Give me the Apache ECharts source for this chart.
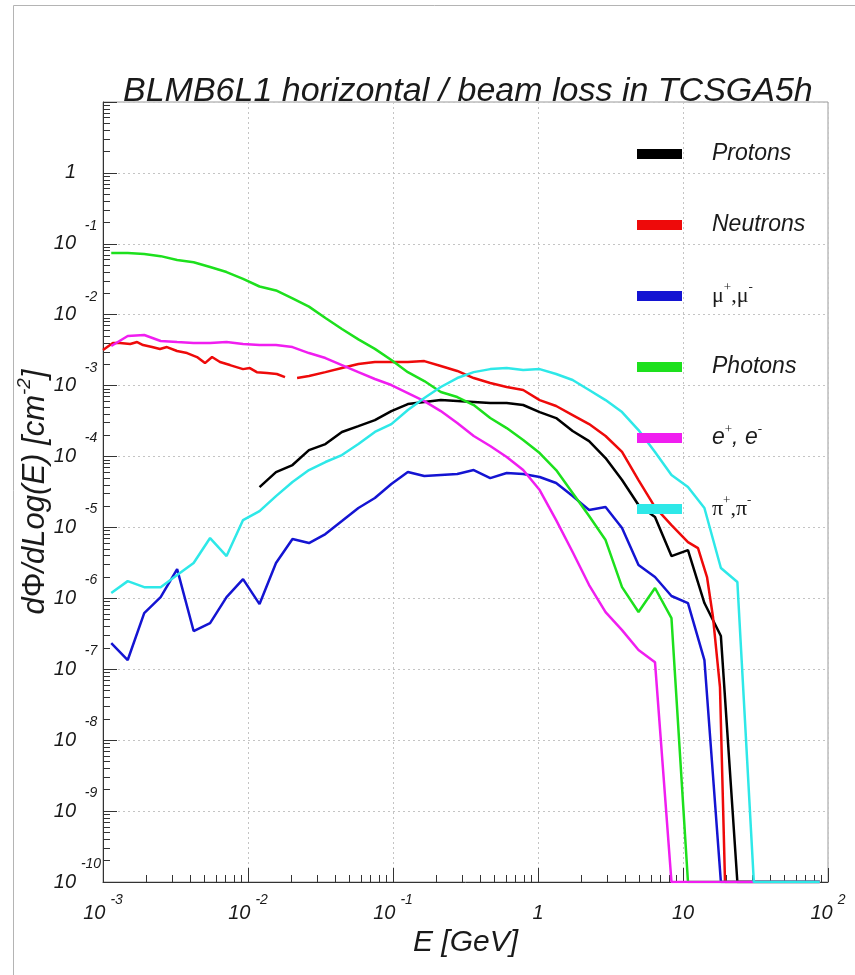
<!DOCTYPE html>
<html>
<head>
<meta charset="utf-8">
<script src="https://cdn.jsdelivr.net/npm/echarts@6/dist/echarts.min.js"></script>
<style>
  html, body { margin: 0; padding: 0; background: #fff; }
  #chart { width: 855px; height: 975px; }
</style>
</head>
<body>
<div id="chart"></div>
<script>
// bin centres (GeV) shared by most spectra
const energy = [0.00114, 0.001481, 0.001924, 0.002498, 0.003246, 0.004217, 0.005477, 0.007115,
  0.009245, 0.01201, 0.0156, 0.02027, 0.02633, 0.0342, 0.04443, 0.05772, 0.07499, 0.09741,
  0.1266, 0.1644, 0.2136, 0.2774, 0.3604, 0.4683, 0.6083, 0.7903, 1.027, 1.334, 1.733, 2.251,
  2.924, 3.798, 4.934, 6.41, 8.326, 10.82, 14.05, 18.25, 23.71, 30.8, 40.01, 51.98, 67.52, 87.71];

const protons = [null, null, null, null, null, null, null, null, null,
  3.71e-5, 6.04e-5, 7.59e-5, 1.23e-4, 1.50e-4, 2.22e-4, 2.69e-4, 3.27e-4, 4.38e-4, 5.50e-4,
  5.87e-4, 6.26e-4, 6.06e-4, 5.87e-4, 5.68e-4, 5.68e-4, 5.33e-4, 4.24e-4, 3.49e-4, 2.29e-4,
  1.65e-4, 9.52e-5, 4.66e-5, 2.07e-5, 1.40e-5, 3.95e-6, 4.80e-6, 8.59e-7, 2.94e-7,
  1e-10, 1e-10, 1e-10, 1e-10, 1e-10, 1e-10];

const muons = [2.34e-7, 1.35e-7, 6.20e-7, 1.04e-6, 2.59e-6, 3.46e-7, 4.48e-7, 1.04e-6, 1.87e-6,
  8.31e-7, 3.15e-6, 6.86e-6, 6.03e-6, 8.07e-6, 1.23e-5, 1.88e-5, 2.60e-5, 4.09e-5, 6.04e-5,
  5.31e-5, 5.48e-5, 5.66e-5, 6.45e-5, 4.97e-5, 5.85e-5, 5.66e-5, 5.14e-5, 4.23e-5, 2.77e-5,
  1.76e-5, 1.94e-5, 9.81e-6, 2.95e-6, 2.00e-6, 1.08e-6, 8.59e-7, 1.35e-7,
  1e-10, 1e-10, 1e-10, 1e-10, 1e-10, 1e-10, 1e-10];

const photons = [7.4e-2, 7.4e-2, 7.2e-2, 6.7e-2, 5.9e-2, 5.5e-2, 4.7e-2, 4.0e-2, 3.2e-2, 2.5e-2,
  2.2e-2, 1.7e-2, 1.3e-2, 9.0e-3, 6.3e-3, 4.5e-3, 3.3e-3, 2.3e-3, 1.55e-3, 1.16e-3, 8.12e-4,
  6.91e-4, 5.33e-4, 3.49e-4, 2.52e-4, 1.71e-4, 1.12e-4, 6.45e-5, 3.06e-5, 1.45e-5, 6.64e-6,
  1.44e-6, 6.41e-7, 1.40e-6, 5.27e-7,
  1e-10, 1e-10, 1e-10, 1e-10, 1e-10, 1e-10, 1e-10, 1e-10, 1e-10];

const electrons = [3.62e-3, 5.01e-3, 5.17e-3, 4.26e-3, 4.12e-3, 3.99e-3, 3.99e-3, 4.12e-3, 3.86e-3,
  3.74e-3, 3.74e-3, 3.50e-3, 2.88e-3, 2.45e-3, 1.95e-3, 1.55e-3, 1.24e-3, 1.02e-3, 7.86e-4,
  6.06e-4, 4.38e-4, 2.97e-4, 1.95e-4, 1.41e-4, 9.84e-5, 6.45e-5, 3.37e-5, 1.27e-5, 4.50e-6,
  1.54e-6, 6.41e-7, 3.57e-7, 1.87e-7, 1.26e-7,
  1e-10, 1e-10, 1e-10, 1e-10, 1e-10, 1e-10, 1e-10, 1e-10, 1e-10, 1e-10];

const pions = [1.19e-6, 1.75e-6, 1.44e-6, 1.44e-6, 2.13e-6, 3.15e-6, 7.09e-6, 3.95e-6, 1.27e-5,
  1.70e-5, 2.77e-5, 4.37e-5, 6.45e-5, 8.37e-5, 1.05e-4, 1.50e-4, 2.22e-4, 2.87e-4, 4.53e-4,
  6.68e-4, 9.56e-4, 1.28e-3, 1.55e-3, 1.71e-3, 1.77e-3, 1.66e-3, 1.71e-3, 1.46e-3, 1.20e-3,
  8.67e-4, 6.26e-4, 4.24e-4, 2.36e-4, 1.16e-4, 5.48e-5, 3.71e-5, 1.88e-5, 2.68e-6, 1.70e-6,
  1e-10, 1e-10, 1e-10, 1e-10, 1e-10];

// neutrons have their own (finer, below 20 MeV) binning, gap at 20 MeV
const neutronEnergy = [0.001, 0.00117, 0.00131, 0.00154, 0.00172, 0.00189, 0.00218, 0.00247,
  0.00276, 0.00324, 0.0038, 0.00445, 0.00505, 0.00565, 0.00641, 0.00751, 0.00924, 0.0103,
  0.0115, 0.0135, 0.0158, 0.018, 0.02,
  0.0218, 0.02633, 0.0342, 0.04443, 0.05772, 0.07499, 0.09741, 0.1266, 0.1644, 0.2136, 0.2774,
  0.3604, 0.4683, 0.6083, 0.7903, 1.027, 1.334, 1.733, 2.251, 2.924, 3.798, 4.934, 6.41, 8.326,
  10.82, 12.69, 14.64, 16.1, 17.99, 19.49, 87.71];
const neutrons = [3.18e-3, 3.99e-3, 3.99e-3, 3.86e-3, 4.12e-3, 3.74e-3, 3.50e-3, 3.28e-3,
  3.50e-3, 3.08e-3, 2.88e-3, 2.53e-3, 2.08e-3, 2.53e-3, 2.15e-3, 1.95e-3, 1.71e-3, 1.77e-3,
  1.55e-3, 1.51e-3, 1.46e-3, 1.32e-3, null,
  1.28e-3, 1.37e-3, 1.55e-3, 1.77e-3, 2.02e-3, 2.15e-3, 2.15e-3, 2.15e-3, 2.22e-3, 1.89e-3,
  1.61e-3, 1.28e-3, 1.09e-3, 9.56e-4, 8.67e-4, 6.26e-4, 5.16e-4, 3.85e-4, 2.87e-4, 1.95e-4,
  1.16e-4, 4.66e-5, 1.94e-5, 1.08e-5, 6.22e-6, 5.12e-6, 2.00e-6, 5.45e-7, 5.61e-8, 1e-10, 1e-10];

const xTickLabels = ['10^-3', '10^-2', '10^-1', '1', '10', '10^2'];
const yTickLabels = ['10^-10', '10^-9', '10^-8', '10^-7', '10^-6', '10^-5', '10^-4', '10^-3',
  '10^-2', '10^-1', '1', ''];

const legendLabels = {
  'Protons': '{sp| }{t|Protons}',
  'Neutrons': '{sp| }{t|Neutrons}',
  'μ+,μ-': '{sp| }{g|μ}{s|+}{g|,μ}{s|-}',
  'Photons': '{sp| }{t|Photons}',
  'e+, e-': '{sp| }{t|e}{s|+}{t|, e}{s|-}',
  'π+,π-': '{sp| }{g|π}{s|+}{g|,π}{s|-}'
};

const FONT = '"Liberation Sans", Arial, Helvetica, sans-serif';
const SERIF = '"Liberation Serif", "Times New Roman", serif';
const INK = '#1a1a1a';

// minor tick positions 2..9 in every decade
const minorX = [];
const minorY = [];
for (let d = -3; d < 2; d++) for (let m = 2; m <= 9; m++) minorX.push(m * Math.pow(10, d));
for (let d = -10; d < 1; d++) for (let m = 2; m <= 9; m++) minorY.push(m * Math.pow(10, d));

function pairs(xs, ys) {
  return xs.map((x, i) => [x, ys[i]]);
}

function makeSeries(name, xs, ys, color) {
  return {
    name: name,
    type: 'line',
    data: pairs(xs, ys),
    color: color,
    showSymbol: false,
    symbol: 'none',
    connectNulls: false,
    lineStyle: { width: 2.5, color: color },
    emphasis: { disabled: true },
    animation: false
  };
}

const chart = echarts.init(document.getElementById('chart'), null, { renderer: 'canvas' });

chart.setOption({
  backgroundColor: '#fff',
  animation: false,
  textStyle: { fontFamily: FONT },
  title: {
    text: 'BLMB6L1 horizontal / beam loss in TCSGA5h',
    left: 123,
    top: 75,
    padding: 0,
    textStyle: { fontSize: 34, fontStyle: 'italic', fontWeight: 'normal', color: INK, fontFamily: FONT }
  },
  graphic: [
    { type: 'line', shape: { x1: 13.5, y1: 5.5, x2: 855, y2: 5.5 }, style: { stroke: '#b4b4b4', lineWidth: 1 } },
    { type: 'line', shape: { x1: 13.5, y1: 5.5, x2: 13.5, y2: 975 }, style: { stroke: '#b4b4b4', lineWidth: 1 } }
  ],
  legend: {
    orient: 'vertical',
    left: 637,
    top: 139,
    itemWidth: 45,
    itemHeight: 10,
    itemGap: 41,
    icon: 'rect',
    selectedMode: false,
    padding: 0,
    formatter: name => legendLabels[name],
    textStyle: {
      color: INK,
      height: 30,
      lineHeight: 30,
      rich: {
        sp: { width: 25, fontSize: 10 },
        t: { fontSize: 23, fontStyle: 'italic', fontFamily: FONT, lineHeight: 30, color: INK },
        g: { fontSize: 22, fontFamily: SERIF, lineHeight: 30, color: INK },
        s: { fontSize: 13, fontFamily: SERIF, lineHeight: 13, verticalAlign: 'top', color: INK }
      }
    }
  },
  grid: {
    left: 103, right: 27, top: 102, bottom: 93,
    show: true, borderColor: '#9a9a9a', borderWidth: 1,
    outerBoundsMode: 'none'
  },
  xAxis: [
    {
      type: 'log', logBase: 10, min: 1e-3, max: 100, splitNumber: 5, interval: 1,
      name: 'E [GeV]',
      nameLocation: 'middle',
      nameGap: 42,
      nameTextStyle: { fontSize: 30, fontStyle: 'italic', color: INK, fontFamily: FONT },
      axisLine: { show: true, lineStyle: { color: '#333', width: 1 } },
      axisTick: { show: true, inside: true, length: 14, lineStyle: { color: '#333' } },
      splitLine: { show: true, lineStyle: { color: '#c4c4c4', type: [2, 3], width: 1 } },
      axisLabel: {
        margin: 11,
        formatter: function (v) {
          const t = xTickLabels[Math.round(Math.log10(v)) + 3];
          if (!t) return '';
          const p = t.split('^');
          return p.length > 1 ? '{b|' + p[0] + '}{g| }{e|' + p[1] + '}' : '{b|' + p[0] + '}';
        },
        rich: {
          b: { fontSize: 20, fontStyle: 'italic', fontFamily: FONT, lineHeight: 40, color: INK },
          g: { width: 5, fontSize: 10 },
          e: { fontSize: 14, fontStyle: 'italic', fontFamily: FONT, lineHeight: 14, verticalAlign: 'top', color: INK }
        }
      }
    },
    {
      type: 'log', logBase: 10, min: 1e-3, max: 100, position: 'bottom', gridIndex: 0,
      axisLine: { show: false },
      axisLabel: { show: false },
      splitLine: { show: false },
      axisTick: { show: true, inside: true, length: 7, customValues: minorX, lineStyle: { color: '#333' } }
    }
  ],
  yAxis: [
    {
      type: 'log', logBase: 10, min: 1e-10, max: 10, splitNumber: 11, interval: 1,
      name: '{i|d}{u|Φ}{i|/dLog(E) [cm}{s|-2}{i|]}',
      nameLocation: 'middle',
      nameRotate: 90,
      nameGap: 48,
      nameMoveOverlap: false,
      nameTextStyle: {
        rich: {
          i: { fontSize: 31, fontStyle: 'italic', fontFamily: FONT, lineHeight: 40, color: INK },
          u: { fontSize: 31, fontFamily: FONT, lineHeight: 40, color: INK },
          s: { fontSize: 19, fontStyle: 'italic', fontFamily: FONT, lineHeight: 16, verticalAlign: 'top', color: INK }
        }
      },
      axisLine: { show: true, lineStyle: { color: '#333', width: 1 } },
      axisTick: { show: true, inside: true, length: 14, lineStyle: { color: '#333' } },
      splitLine: { show: true, lineStyle: { color: '#c4c4c4', type: [2, 3], width: 1 } },
      axisLabel: {
        margin: 2,
        formatter: function (v) {
          const t = yTickLabels[Math.round(Math.log10(v)) + 10];
          if (!t) return '';
          const p = t.split('^');
          return p.length > 1 ? '{b|' + p[0] + '}{g| }{e|' + p[1] + '}' : '{b|' + p[0] + '}{g| }{e| }';
        },
        rich: {
          b: { fontSize: 20, fontStyle: 'italic', fontFamily: FONT, lineHeight: 50, color: INK },
          g: { width: 5, fontSize: 10 },
          e: { fontSize: 14, fontStyle: 'italic', fontFamily: FONT, lineHeight: 14, verticalAlign: 'top', width: 20, align: 'left', color: INK }
        }
      }
    },
    {
      type: 'log', logBase: 10, min: 1e-10, max: 10, position: 'left', gridIndex: 0,
      axisLine: { show: false },
      axisLabel: { show: false },
      splitLine: { show: false },
      axisTick: { show: true, inside: true, length: 7, customValues: minorY, lineStyle: { color: '#333' } }
    }
  ],
  series: [
    makeSeries('Protons', energy, protons, '#000000'),
    makeSeries('Neutrons', neutronEnergy, neutrons, '#ee0a0a'),
    makeSeries('μ+,μ-', energy, muons, '#1414d2'),
    makeSeries('Photons', energy, photons, '#1de01d'),
    makeSeries('e+, e-', energy, electrons, '#f01ef0'),
    makeSeries('π+,π-', energy, pions, '#2ee8e8')
  ]
});
</script>
</body>
</html>
